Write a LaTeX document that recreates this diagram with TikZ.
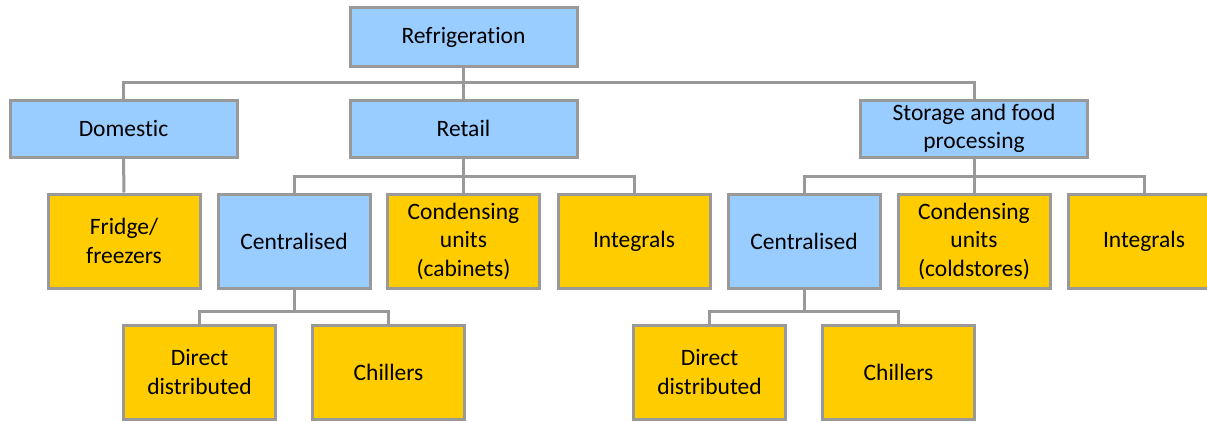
\documentclass[tikz,border=0pt]{standalone}
\usepackage{fontspec}
\setmainfont[Ligatures=NoCommon]{Carlito}
\definecolor{boxblue}{HTML}{99CCFF}
\definecolor{boxyellow}{HTML}{FFCC00}
\definecolor{linegray}{HTML}{999999}
\begin{document}
\begin{tikzpicture}[x=1pt,y=-1pt,
  box/.style={draw=linegray,line width=3pt,inner sep=0pt,align=center,
    font=\fontsize{23.5}{28.5}\selectfont,text=black},
  bluebox/.style={box,fill=boxblue},
  yellowbox/.style={box,fill=boxyellow},
  wide/.style={minimum width=227pt,minimum height=57pt},
  tall/.style={minimum width=152pt,minimum height=94pt},
  conn/.style={draw=linegray,line width=3pt}]
\useasboundingbox (0,0) rectangle (1207,421);
\begin{scope}
\clip (0,0) rectangle (1207,421);
% level 0
\node[bluebox,minimum width=227pt,minimum height=59pt] (ref) at (463.5,37) {Refrigeration};
% level 1
\node[bluebox,wide] (dom) at (123.5,128.5) {Domestic};
\node[bluebox,wide] (ret) at (463.5,128.5) {Retail};
\node[bluebox,wide] (sto) at (974,128.5) {Storage and food\\processing};
% level 2
\node[yellowbox,tall] (fri) at (124,241) {Fridge/\\freezers};
\node[bluebox,tall] (ce1) at (294,241) {Centralised};
\node[yellowbox,tall] (co1) at (463.5,241) {Condensing\\units\\(cabinets)};
\node[yellowbox,tall] (in1) at (634,241) {Integrals};
\node[bluebox,tall] (ce2) at (804,241) {Centralised};
\node[yellowbox,tall] (co2) at (974,241) {Condensing\\units\\(coldstores)};
\node[yellowbox,tall] (in2) at (1144,241) {Integrals};
% level 3
\node[yellowbox,tall] (dd1) at (199.5,372) {Direct\\distributed};
\node[yellowbox,tall] (ch1) at (388.5,372) {Chillers};
\node[yellowbox,tall] (dd2) at (709.5,372) {Direct\\distributed};
\node[yellowbox,tall] (ch2) at (898.5,372) {Chillers};
\end{scope}
% connectors
\coordinate (b1) at (0,82);
\coordinate (b2) at (0,176);
\coordinate (b3) at (0,311);
\draw[conn] (ref.south) -- (ret.north);
\draw[conn] (dom.north) |- (sto.north |- b1) -- (sto.north);
\draw[conn] (ret.south) -- (co1.north);
\draw[conn] (ce1.north) |- (in1.north |- b2) -- (in1.north);
\draw[conn] (sto.south) -- (co2.north);
\draw[conn] (ce2.north) |- (in2.north |- b2) -- (in2.north);
\draw[conn] (dom.south) -- (fri.north);
\draw[conn] (ce1.south) -- (ce1.south |- b3);
\draw[conn] (dd1.north) |- (ch1.north |- b3) -- (ch1.north);
\draw[conn] (ce2.south) -- (ce2.south |- b3);
\draw[conn] (dd2.north) |- (ch2.north |- b3) -- (ch2.north);
\end{tikzpicture}
\end{document}
